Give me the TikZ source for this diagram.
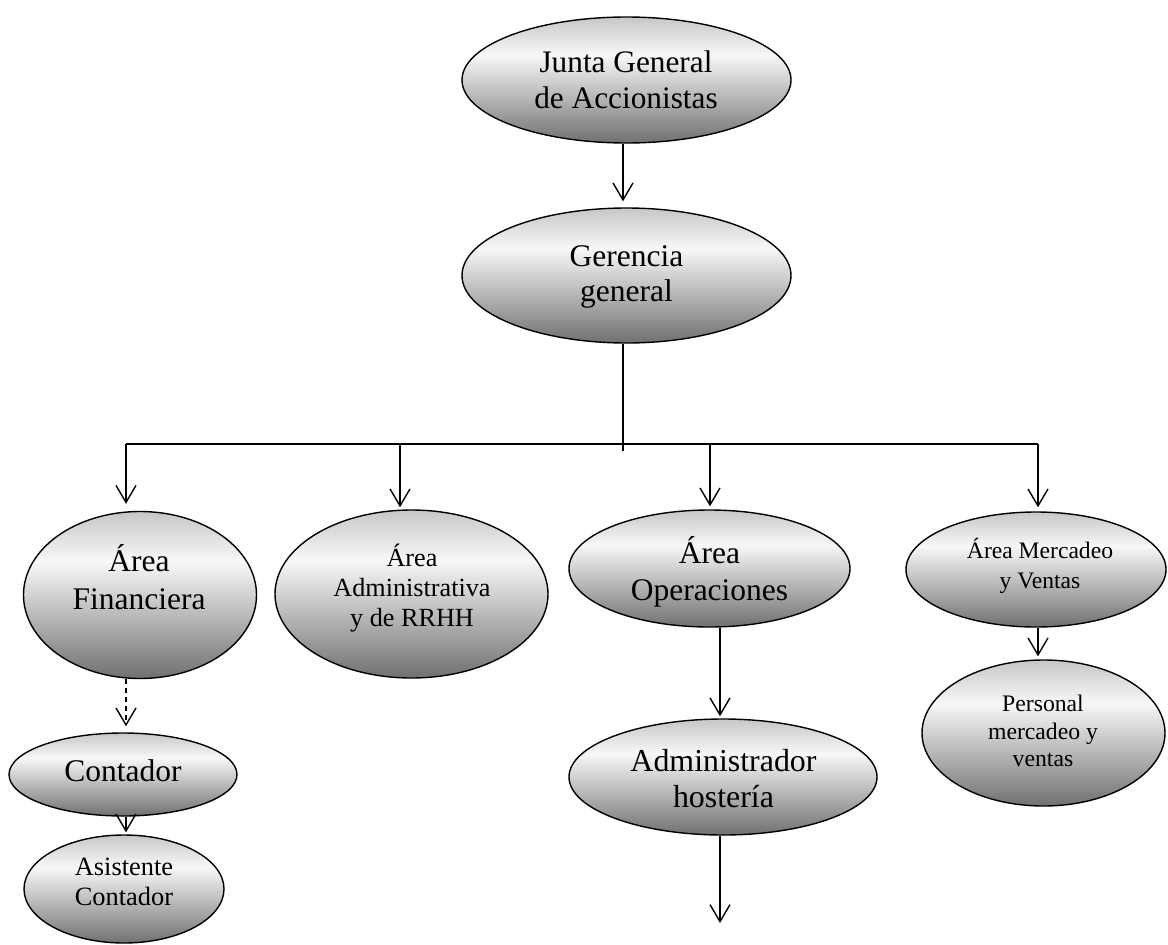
\documentclass[tikz,border=0pt]{standalone}
\usepackage{fontspec}
\setmainfont{Liberation Serif}
\usetikzlibrary{shapes.geometric,arrows.meta}
\pgfdeclareverticalshading{ovalshade}{100bp}{color(0bp)=(black!56); color(25bp)=(black!56); color(60bp)=(black!3); color(75bp)=(black!22); color(100bp)=(black!22)}
\begin{document}
\begin{tikzpicture}[x=1pt,y=-1pt,
  oval/.style={ellipse, draw, line width=1.4pt, shading=ovalshade, inner sep=0pt},
  lbl/.style={align=center, inner sep=0pt},
  arr/.style={line width=1.4pt, -{Straight Barb[length=17pt,width=20pt]}},
  conn/.style={line width=1.4pt}]
\useasboundingbox (0,0) rectangle (1168,945);

% ellipses
\node[oval, minimum width=329pt, minimum height=126pt] (jga) at (626.5,80) {};
\node[oval, minimum width=329pt, minimum height=135pt] (ger) at (626.5,275.5) {};
\node[oval, minimum width=233pt, minimum height=167pt] (fin) at (140,595) {};
\node[oval, minimum width=273pt, minimum height=168pt] (adm) at (411.5,594) {};
\node[oval, minimum width=281pt, minimum height=117pt] (ope) at (709.5,568.5) {};
\node[oval, minimum width=260pt, minimum height=115pt] (mer) at (1036,569.5) {};
\node[oval, minimum width=243pt, minimum height=146pt] (per) at (1043.5,733) {};
\node[oval, minimum width=228pt, minimum height=83pt] (con) at (123,774.5) {};
\node[oval, minimum width=200pt, minimum height=108pt] (asi) at (124,889) {};
\node[oval, minimum width=308pt, minimum height=116pt] (adh) at (723,777) {};

% texts
\node[lbl, font=\fontsize{31.3}{35.7}\selectfont] (jgaT) at (626,80) {Junta General\\de Accionistas};
\node[lbl, font=\fontsize{31.5}{35}\selectfont] (gerT) at (626.5,277) {Gerencia\\general};
\node[lbl, font=\fontsize{31.5}{37.7}\selectfont] (finT) at (139,577) {Área\\Financiera};
\node[lbl, font=\fontsize{26.2}{30}\selectfont] (admT) at (412,588) {Área\\Administrativa\\y de RRHH};
\node[lbl, font=\fontsize{31.5}{37}\selectfont] (opeT) at (709.5,572) {Área\\Operaciones};
\node[lbl, font=\fontsize{23.6}{30}\selectfont] (merT) at (1040,566) {Área Mercadeo\\y Ventas};
\node[lbl, font=\fontsize{23.7}{27.5}\selectfont] (perT) at (1043,731) {Personal\\mercadeo y\\ventas};
\node[lbl, font=\fontsize{31.5}{36}\selectfont] (conT) at (123,771) {Contador};
\node[lbl, font=\fontsize{26.4}{30}\selectfont] (asiT) at (124,882) {Asistente\\Contador};
\node[lbl, font=\fontsize{31.9}{36}\selectfont] (adhT) at (723.5,779) {Administrador\\hostería};

% coordinates
\coordinate (gbus) at (623,451);
\coordinate (b1) at (126,444);
\coordinate (b2) at (400,444);
\coordinate (b3) at (710,444);
\coordinate (b4) at (1038,444);
\coordinate (end) at (720,923);

% connectors
\draw[arr, shorten >=6pt] ([xshift=-3.5pt]jga.south) -- ([xshift=-3.5pt]ger.north);
\draw[conn] ([xshift=-3.5pt]ger.south) -- (gbus);
\draw[conn] (b1) -- (b4);
\draw[arr, shorten >=7pt] (b1) -- (b1 |- fin.north);
\draw[arr, shorten >=2pt] (b2) -- (b2 |- adm.north);
\draw[arr, shorten >=3pt] (b3) -- (b3 |- ope.north);
\draw[arr, shorten >=4pt] (b4) -- (b4 |- mer.north);
\draw[arr, dash pattern=on 5pt off 4pt, shorten >=6pt] (b1 |- fin.south) -- (b1 |- con.north);
\draw[arr, shorten >=2pt] (b1 |- con.south) -- (b1 |- asi.north);
\draw[arr, shorten >=2pt] (ope.south -| end) -- (adh.north -| end);
\draw[arr, shorten >=3pt] (b4 |- mer.south) -- (b4 |- per.north);
\draw[arr] (adh.south -| end) -- (end);
\end{tikzpicture}
\end{document}
